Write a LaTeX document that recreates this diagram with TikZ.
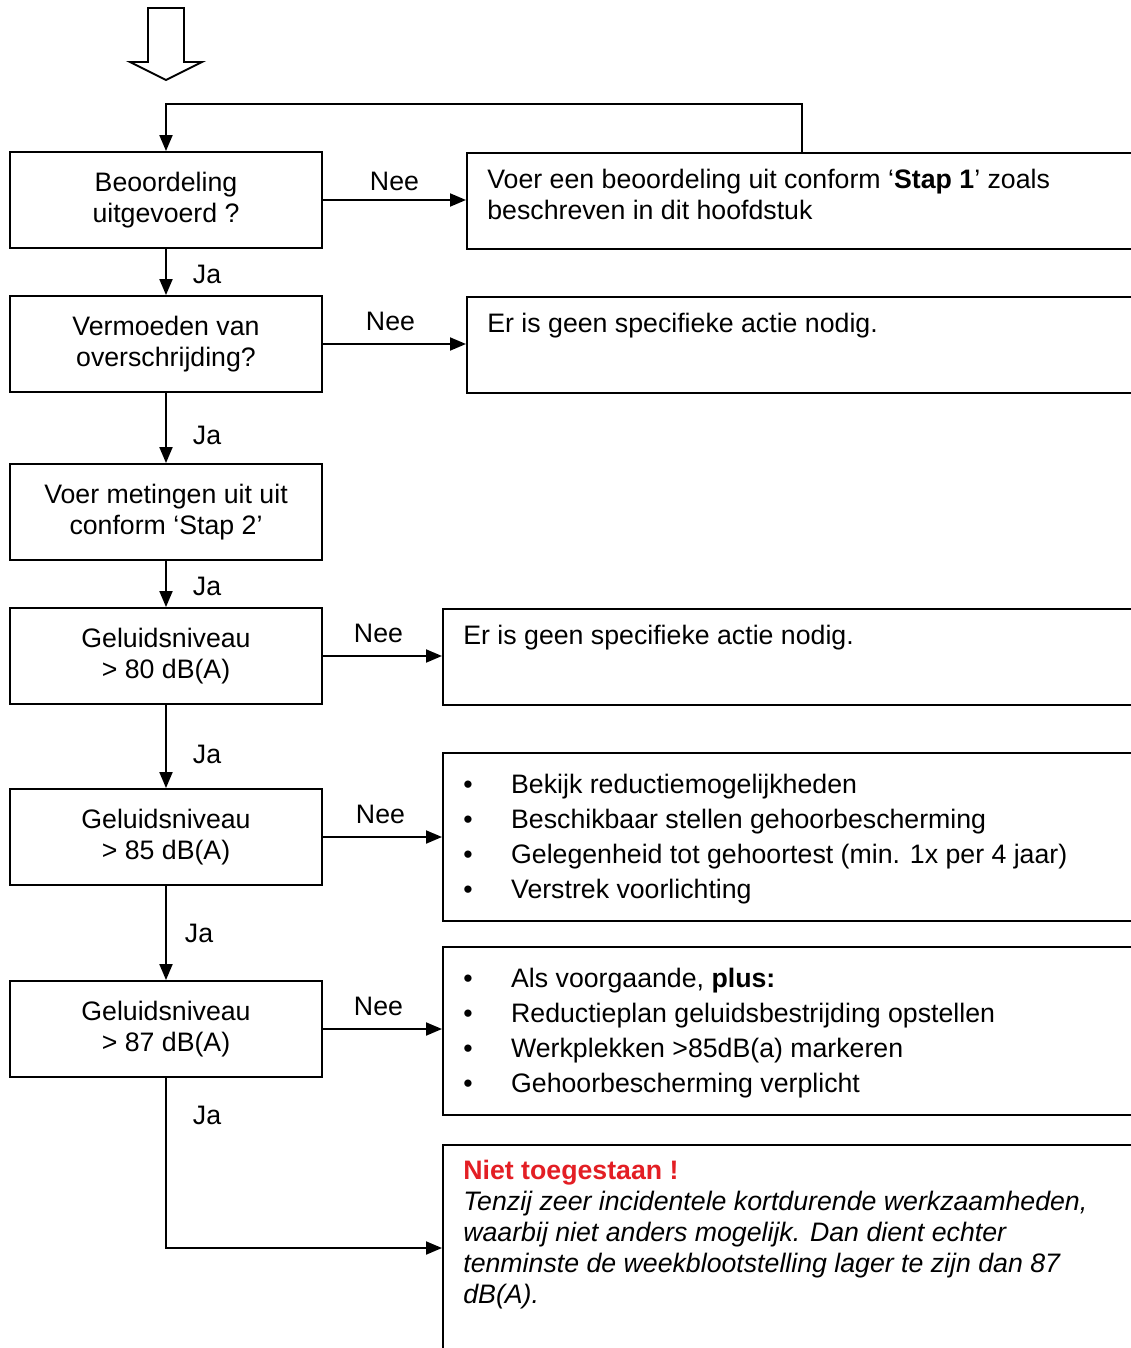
\documentclass[tikz,border=0pt]{standalone}
\usepackage{fontspec}
\setmainfont{Liberation Sans}
\usepackage{xcolor}
\usetikzlibrary{positioning,arrows.meta}
\definecolor{nietrood}{RGB}{227,30,36}

\tikzset{
  vraag/.style={draw, line width=1.1pt, minimum width=6.24cm, minimum height=1.92cm, align=center, inner sep=0pt},
  actie/.style={draw, line width=1.1pt, anchor=north west, inner sep=0pt},
  tekst/.style={anchor=base west, align=left, inner sep=0pt},
  pijl/.style={line width=1.1pt, -{Triangle[length=3.2mm,width=2.6mm]}},
  nee/.style={inner sep=0pt, above=0.25cm},
  ja/.style={inner sep=0pt, right=0.52cm}
}

\begin{document}
\begin{tikzpicture}[x=0.02cm, y=-0.02cm, font=\fontsize{15.2}{17.6}\selectfont]
\useasboundingbox (0,0) rectangle (1131,1348);
\clip (0,0) rectangle (1131,1348);

% start pijl
\draw[line width=1.1pt] (148,8) -- (184,8) -- (184,62) -- (202,62) -- (166,80) -- (130,62) -- (148,62) -- cycle;

% vragen
\node[vraag] at (166,200) (b1) {Beoordeling\\uitgevoerd ?\vphantom{g}};
\node[vraag] at (166,344) (b2) {Vermoeden van\\overschrijding?};
\node[vraag] at (166,512) (b3) {Voer metingen uit uit\\conform ‘Stap 2’\vphantom{g}};
\node[vraag] at (166,656) (b4) {Geluidsniveau\\> 80 dB(A)};
\node[vraag] at (166,837) (b5) {Geluidsniveau\\> 85 dB(A)};
\node[vraag] at (166,1029) (b6) {Geluidsniveau\\> 87 dB(A)};

% acties
\node[actie, minimum width=14cm, minimum height=1.92cm] at (466,152) (r1) {};
\node[actie, minimum width=14cm, minimum height=1.92cm] at (466,296) (r2) {};
\node[actie, minimum width=14.5cm, minimum height=1.92cm] at (442,608) (r3) {};
\node[actie, minimum width=14.5cm, minimum height=3.36cm] at (442,752) (r4) {};
\node[actie, minimum width=14.5cm, minimum height=3.36cm] at (442,946) (r5) {};
\node[actie, minimum width=14.5cm, minimum height=5.2cm] at (442,1144) (r6) {};

% teksten (base = laatste regel)
\node[tekst] at (487,219) (t1) {Voer een beoordeling uit conform ‘\textbf{Stap 1}’ zoals\\beschreven in dit hoofdstuk};
\node[tekst] at (487,332) (t2) {Er is geen specifieke actie nodig.};
\node[tekst] at (463,644) (t3) {Er is geen specifieke actie nodig.};
\node[tekst, font=\fontsize{15.2}{19.8}\selectfont] at (463,898) (t4) {%
  \makebox[27.2pt][l]{\textbullet}Bekijk reductiemogelijkheden\\
  \makebox[27.2pt][l]{\textbullet}Beschikbaar stellen gehoorbescherming\\
  \makebox[27.2pt][l]{\textbullet}Gelegenheid tot gehoortest (min. 1x per 4 jaar)\\
  \makebox[27.2pt][l]{\textbullet}Verstrek voorlichting};
\node[tekst, font=\fontsize{15.2}{19.8}\selectfont] at (463,1092) (t5) {%
  \makebox[27.2pt][l]{\textbullet}Als voorgaande, \textbf{plus:}\\
  \makebox[27.2pt][l]{\textbullet}Reductieplan geluidsbestrijding opstellen\\
  \makebox[27.2pt][l]{\textbullet}Werkplekken >85dB(a) markeren\\
  \makebox[27.2pt][l]{\textbullet}Gehoorbescherming verplicht};
\node[tekst] at (463,1303) (t6) {\textcolor{nietrood}{\textbf{Niet toegestaan !}}\\
  \itshape Tenzij zeer incidentele kortdurende werkzaamheden,\\
  \itshape waarbij niet anders mogelijk. Dan dient echter\\
  \itshape tenminste de weekblootstelling lager te zijn dan 87\\
  \itshape dB(A).};

% terugkoppeling
\coordinate (terug) at (802,104);
\coordinate (eind) at (442,1248);

% verbindingen
\draw[pijl] (terug |- r1.north) -- (terug) -| (b1.north);
\draw[pijl] (b1.east) -- node[nee, above=0.17cm] (n1) {Nee} (b1.east -| r1.west);
\draw[pijl] (b2.east) -- node[nee, xshift=-0.08cm] (n2) {Nee} (b2.east -| r2.west);
\draw[pijl] (b4.east) -- node[nee, xshift=-0.08cm] (n3) {Nee} (b4.east -| r3.west);
\draw[pijl] (b5.east) -- node[nee, xshift=-0.04cm] (n4) {Nee} (b5.east -| r4.west);
\draw[pijl] (b6.east) -- node[nee, xshift=-0.08cm] (n5) {Nee} (b6.east -| r5.west);

\draw[pijl] (b1.south) -- node[ja, pos=0.55] (j1) {Ja} (b2.north);
\draw[pijl] (b2.south) -- node[ja, pos=0.61] (j2) {Ja} (b3.north);
\draw[pijl] (b3.south) -- node[ja, pos=0.55] (j3) {Ja} (b4.north);
\draw[pijl] (b4.south) -- node[ja, pos=0.6] (j4) {Ja} (b5.north);
\draw[pijl] (b5.south) -- node[ja, right=0.36cm] (j5) {Ja} (b6.north);
\draw[pijl] (b6.south) |- node[ja, pos=0.111] (j6) {Ja} (eind);
\end{tikzpicture}
\end{document}
